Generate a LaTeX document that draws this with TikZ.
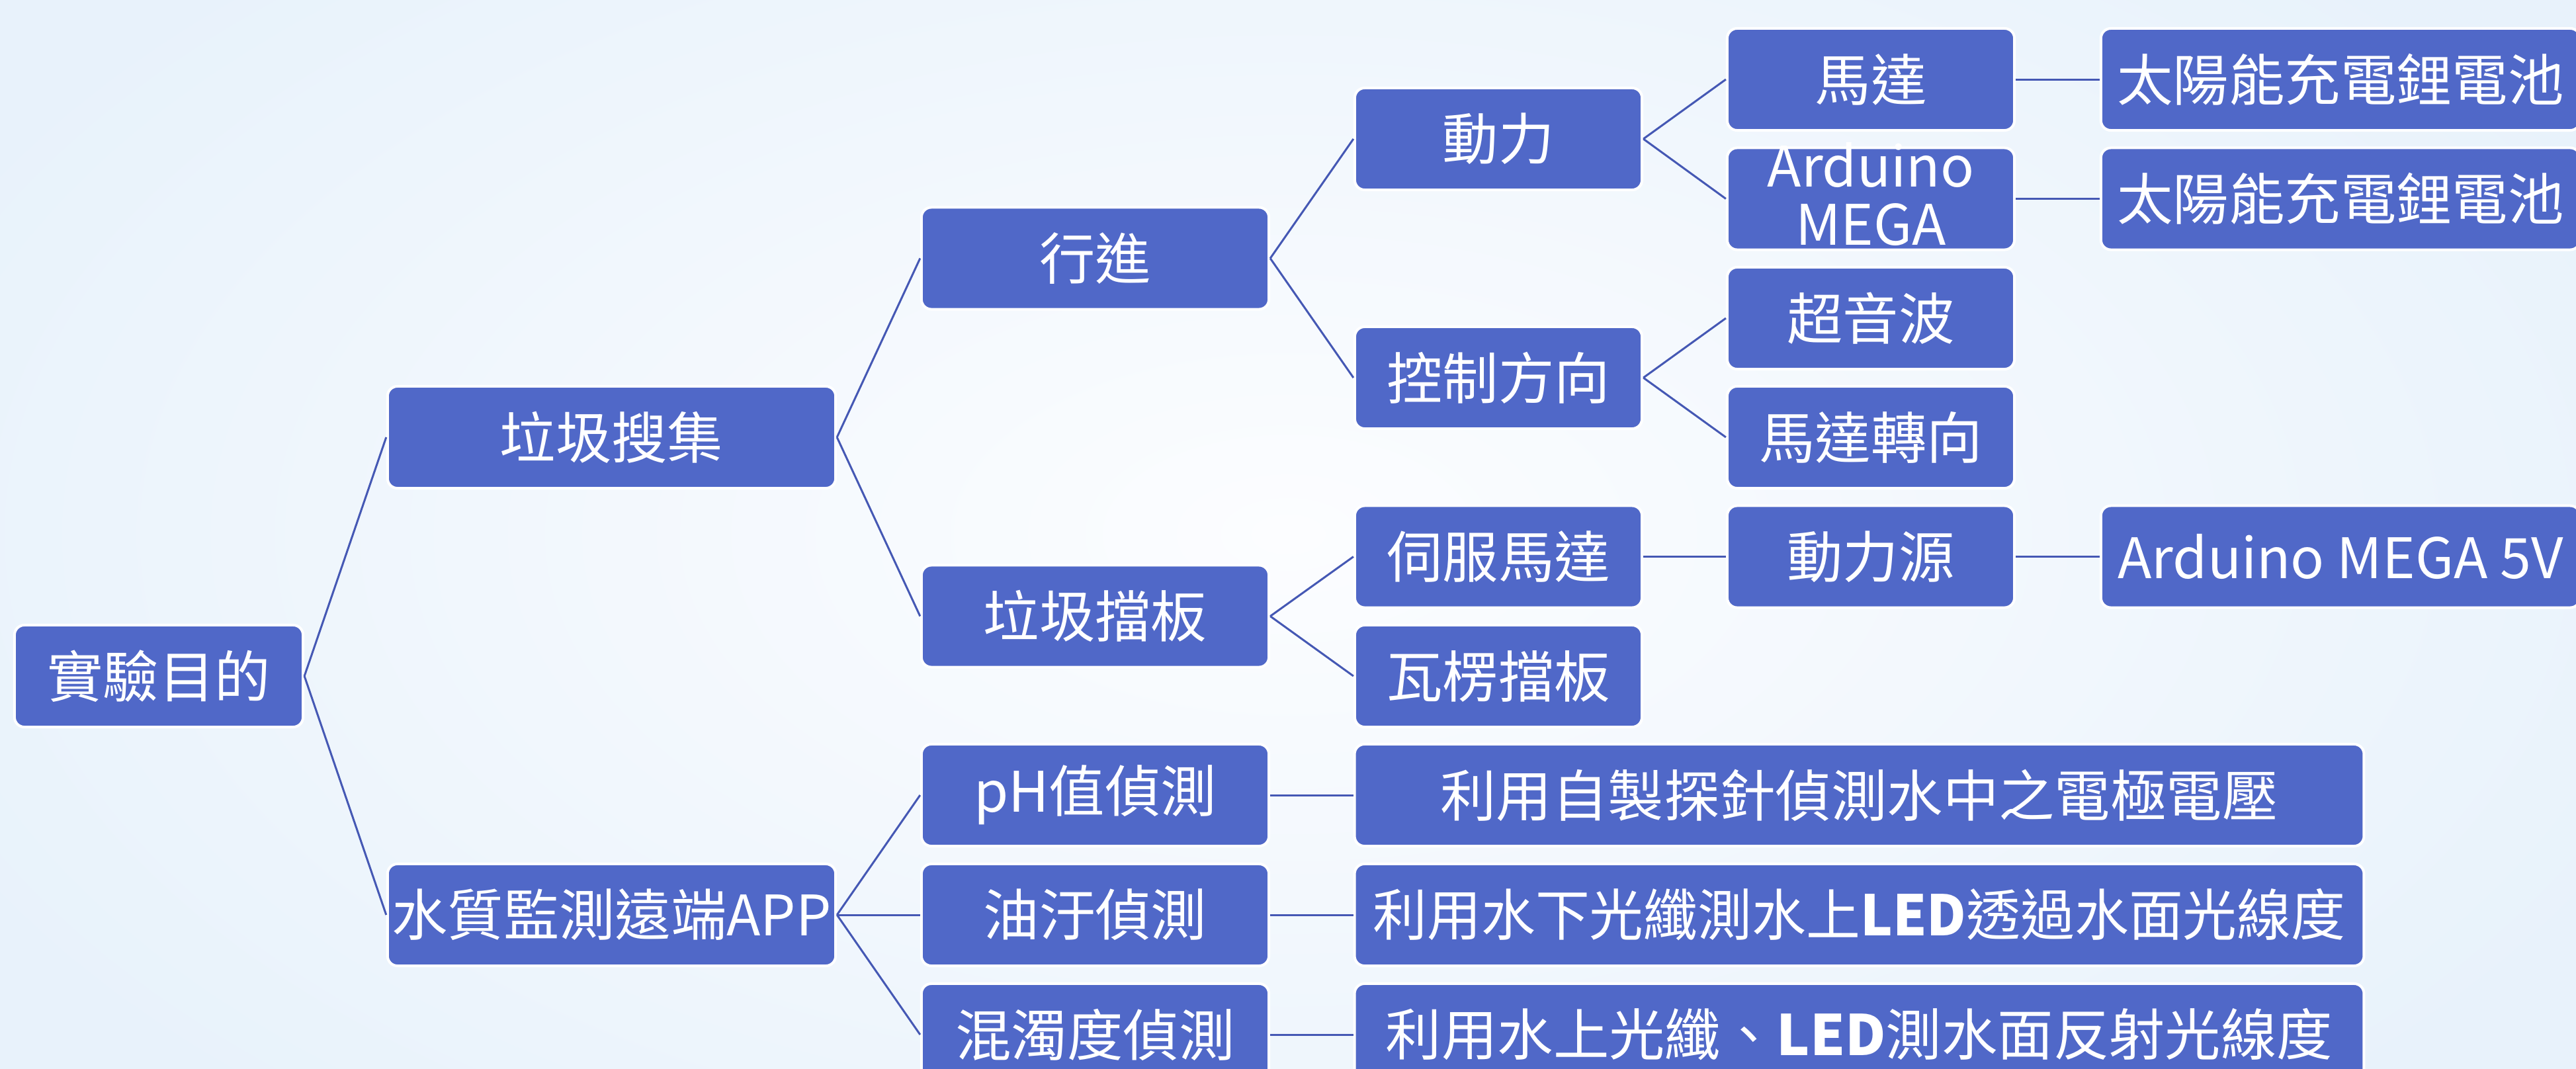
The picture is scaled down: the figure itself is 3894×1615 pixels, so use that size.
\documentclass[tikz,border=0pt]{standalone}
\usepackage{fontspec}
\setmainfont{Noto Sans CJK TC}
\definecolor{boxblue}{HTML}{5068C8}
\definecolor{lineblue}{HTML}{4558B4}
\definecolor{bgin}{HTML}{FCFDFF}
\definecolor{bgout}{HTML}{E8F2FB}
\tikzset{
  box/.style={fill=boxblue, draw=white, line width=0.04cm, rounded corners=0.15cm,
    minimum height=1.54cm, inner sep=0pt, text=white, align=center,
    font=\fontsize{24}{25.3}\selectfont},
  txt/.style={text=white, inner sep=0pt, anchor=base, font=\fontsize{24}{25.3}\selectfont},
  w0/.style={box, minimum width=4.36cm},
  w1/.style={box, minimum width=6.77cm},
  w2/.style={box, minimum width=5.25cm},
  w3/.style={box, minimum width=4.34cm},
  wl/.style={box, minimum width=15.25cm},
  w5/.style={box, minimum width=7.24cm},
  link/.style={draw=lineblue, line width=0.03cm}
}
\begin{document}
\begin{tikzpicture}[x=0.01cm, y=-0.01cm]
\useasboundingbox (0,0) rectangle (3894,1615);
\clip (0,0) rectangle (3894,1615);
\shade[inner color=bgin, outer color=bgout] (-300,-400) rectangle (4194,2015);

% level 0
\node[w0] (root) at (240,1022) {實驗目的};
% level 1
\node[w1] (ljsj) at (924.5,661) {垃圾搜集};
\node[w1] (szjc) at (924.5,1383) {水質監測遠端APP};
% level 2
\node[w2] (xj) at (1655.5,390.5) {行進};
\node[w2] (ljdb) at (1655.5,931.5) {垃圾擋板};
\node[w2] (ph) at (1655.5,1202) {pH值偵測};
\node[w2] (yw) at (1655.5,1383) {油汙偵測};
\node[w2] (hz) at (1655.5,1564) {混濁度偵測};
% level 3
\node[w3] (dl) at (2265,210) {動力};
\node[w3] (kz) at (2265,571) {控制方向};
\node[w3] (sf) at (2265,841.5) {伺服馬達};
\node[w3] (wl) at (2265,1022) {瓦楞擋板};
\node[wl] (phd) at (2810.5,1202) {利用自製探針偵測水中之電極電壓};
\node[wl] (ywd) at (2810.5,1383) {\scalebox{0.97}[1]{利用水下光纖測水上\textbf{LED}透過水面光線度}};
\node[wl] (hzd) at (2810.5,1564) {利用水上光纖、\textbf{LED}測水面反射光線度};
% level 4
\node[w3] (md) at (2828,120) {馬達};
\node[w3] (ard) at (2828,300.5) {};
\node[txt] (ardt1) at (2828,282) {Arduino};
\node[txt] (ardt2) at (2828,370) {MEGA};
\node[w3] (csb) at (2828,481) {超音波};
\node[w3] (mdzx) at (2828,661) {馬達轉向};
\node[w3] (dly) at (2828,841.5) {動力源};
% level 5
\node[w5] (bat1) at (3538,120) {太陽能充電鋰電池};
\node[w5] (bat2) at (3538,300.5) {太陽能充電鋰電池};
\node[w5] (a5v) at (3538,841.5) {Arduino MEGA 5V};

% connectors
\path[link] (root.east) -- (ljsj.west);
\path[link] (root.east) -- (szjc.west);
\path[link] (ljsj.east) -- (xj.west);
\path[link] (ljsj.east) -- (ljdb.west);
\path[link] (xj.east) -- (dl.west);
\path[link] (xj.east) -- (kz.west);
\path[link] (dl.east) -- (md.west);
\path[link] (dl.east) -- (ard.west);
\path[link] (md.east) -- (bat1.west);
\path[link] (ard.east) -- (bat2.west);
\path[link] (kz.east) -- (csb.west);
\path[link] (kz.east) -- (mdzx.west);
\path[link] (ljdb.east) -- (sf.west);
\path[link] (ljdb.east) -- (wl.west);
\path[link] (sf.east) -- (dly.west);
\path[link] (dly.east) -- (a5v.west);
\path[link] (szjc.east) -- (ph.west);
\path[link] (szjc.east) -- (yw.west);
\path[link] (szjc.east) -- (hz.west);
\path[link] (ph.east) -- (phd.west);
\path[link] (yw.east) -- (ywd.west);
\path[link] (hz.east) -- (hzd.west);
\end{tikzpicture}
\end{document}
